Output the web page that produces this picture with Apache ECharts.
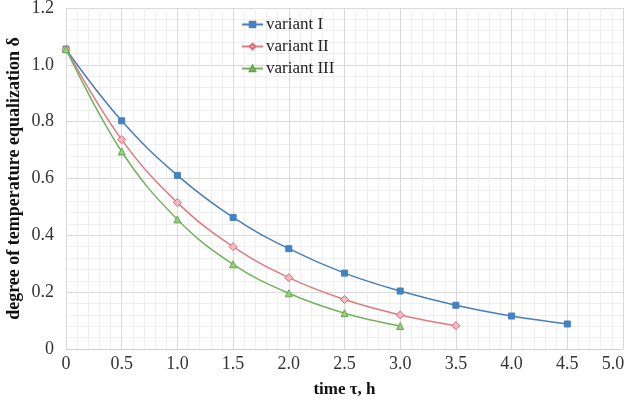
<!DOCTYPE html>
<html>
<head>
    <meta charset="UTF-8">
    <title>degree of temperature equalization</title>
    <script type="text/javascript" src="https://cdn.jsdelivr.net/npm/echarts@6/dist/echarts.min.js"></script>
    <style>
        body { margin: 0; padding: 0; background: #ffffff; }
        #chart { width: 626px; height: 411px; }
    </style>
</head>
<body>
    <div id="chart"></div>
    <script>
        // data
        var timeI = [0, 0.5, 1.0, 1.5, 2.0, 2.5, 3.0, 3.5, 4.0, 4.5];
        var valuesI = [1.055, 0.803, 0.611, 0.463, 0.353, 0.267, 0.204, 0.154, 0.116, 0.088];
        var timeII = [0, 0.5, 1.0, 1.5, 2.0, 2.5, 3.0, 3.5];
        var valuesII = [1.055, 0.737, 0.515, 0.360, 0.251, 0.174, 0.120, 0.082];
        var timeIII = [0, 0.5, 1.0, 1.5, 2.0, 2.5, 3.0];
        var valuesIII = [1.055, 0.695, 0.456, 0.298, 0.196, 0.126, 0.081];
        var seriesNames = ['variant I', 'variant II', 'variant III'];

        function pairs(xs, ys) {
            return xs.map(function (x, i) { return [x, ys[i]]; });
        }

        var chart = echarts.init(document.getElementById('chart'), null, { renderer: 'canvas' });

        var font = 'Liberation Serif, Times New Roman, serif';

        var option = {
            animation: false,
            textStyle: { fontFamily: font },
            grid: { left: 66, right: 3, top: 8, bottom: 62, containLabel: false, outerBoundsMode: 'none' },
            legend: {
                orient: 'vertical',
                left: 236,
                top: 11,
                itemGap: 5,
                itemWidth: 21,
                itemHeight: 7,
                textStyle: { fontFamily: font, fontSize: 17, color: '#222', padding: [0, 0, 0, -2] },
                data: seriesNames
            },
            xAxis: {
                type: 'value',
                min: 0,
                max: 5,
                interval: 0.5,
                name: 'time τ, h',
                nameLocation: 'middle',
                nameGap: 32,
                nameMoveOverlap: false,
                nameTextStyle: { fontFamily: font, fontSize: 17, fontWeight: 'bold', color: '#111' },
                axisLine: { show: true, lineStyle: { color: '#d0d0d0' } },
                axisTick: { show: false },
                axisLabel: {
                    fontFamily: font, fontSize: 18, color: '#333', margin: 6,
                    formatter: function (v) {
                        if (v === 0) return '0';
                        if (v === 5) return '{last|5.0}';
                        return v.toFixed(1);
                    },
                    rich: {
                        last: { fontFamily: font, fontSize: 18, color: '#333', padding: [0, 20, 0, 0] }
                    }
                },
                splitLine: { show: true, lineStyle: { color: '#d9d9d9' } },
                minorTick: { show: false, splitNumber: 5 },
                minorSplitLine: { show: true, lineStyle: { color: '#efefef' } }
            },
            yAxis: {
                type: 'value',
                min: 0,
                max: 1.2,
                interval: 0.2,
                name: 'degree of temperature equalization δ',
                nameLocation: 'middle',
                nameGap: 43,
                nameMoveOverlap: false,
                nameTextStyle: { fontFamily: font, fontSize: 18, fontWeight: 'bold', color: '#111' },
                axisLine: { show: false },
                axisTick: { show: false },
                axisLabel: {
                    fontFamily: font, fontSize: 18, color: '#333', margin: 12,
                    formatter: function (v) { return v === 0 ? '0' : v.toFixed(1); }
                },
                splitLine: { show: true, lineStyle: { color: '#d9d9d9' } },
                minorTick: { show: false, splitNumber: 5 },
                minorSplitLine: { show: true, lineStyle: { color: '#efefef' } }
            },
            series: [
                {
                    name: seriesNames[0],
                    type: 'line',
                    smooth: 0.4,
                    data: pairs(timeI, valuesI),
                    symbol: 'rect',
                    symbolSize: 6,
                    lineStyle: { color: '#4a7ebb', width: 1.5 },
                    itemStyle: { color: '#3d85c6', borderColor: '#4a7ebb', borderWidth: 1 }
                },
                {
                    name: seriesNames[1],
                    type: 'line',
                    smooth: 0.4,
                    data: pairs(timeII, valuesII),
                    symbol: 'diamond',
                    symbolSize: 8,
                    lineStyle: { color: '#e07a80', width: 1.5 },
                    itemStyle: { color: '#f3b8c0', borderColor: '#dc6c78', borderWidth: 1 }
                },
                {
                    name: seriesNames[2],
                    type: 'line',
                    smooth: 0.4,
                    data: pairs(timeIII, valuesIII),
                    symbol: 'triangle',
                    symbolSize: 7,
                    lineStyle: { color: '#72b35e', width: 1.5 },
                    itemStyle: { color: '#9ccc7a', borderColor: '#62a84e', borderWidth: 1 }
                }
            ]
        };

        chart.setOption(option);
    </script>
</body>
</html>
